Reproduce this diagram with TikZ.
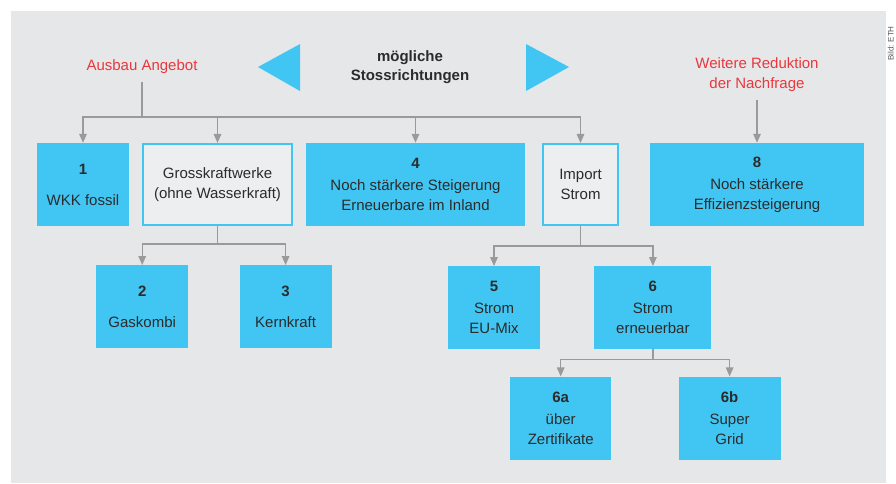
\documentclass[tikz,border=0pt]{standalone}
\usepackage{fontspec}
\setmainfont{Liberation Sans}
\usetikzlibrary{positioning}
\usetikzlibrary{arrows.meta}
\definecolor{bgc}{HTML}{E6E7E9}
\definecolor{cyanbox}{HTML}{41C6F3}
\definecolor{redtxt}{HTML}{E8383D}
\definecolor{linec}{HTML}{9A9A9A}
\definecolor{txt}{HTML}{2B2B2B}

\begin{document}
\begin{tikzpicture}[x=1pt,y=-1pt,node distance=13pt,font=\fontsize{15}{20}\selectfont,text=txt]
\tikzstyle{box}=[fill=cyanbox, align=center, minimum height=83pt, inner sep=0pt]
\tikzstyle{obox}=[draw=cyanbox, line width=1.6pt, fill=bgc!70!white, align=center, minimum height=81.5pt, inner sep=0pt]
\tikzstyle{goal}=[text=redtxt, align=center, inner sep=8pt]
\tikzstyle{line}=[draw=linec, line width=1.4pt]
\tikzstyle{arr}=[line, -{Triangle[width=7.5pt,length=9pt]}]
\useasboundingbox (0,0) rectangle (896,483);
\fill[bgc] (11,11) rectangle (886,483);
\node[rotate=90, anchor=south west, inner sep=1pt, text=black!65, font=\fontsize{8}{9}\selectfont] (credit) at (895,62) {Bild: ETH};

% Kopfzeile
\node[goal] (ausbau) at (142,67) {Ausbau Angebot};
\node[font=\bfseries\fontsize{15}{19}\selectfont, align=center] (head) at (410,67) {mögliche\\Stossrichtungen};
\fill[cyanbox] (258,67) -- (300,44) -- (300,91) -- cycle;
\fill[cyanbox] (569,67) -- (526,44) -- (526,91) -- cycle;

% erste Ebene
\node[box, minimum width=92pt] (b1) at (83,184.5) {\textbf{1}\\[11pt]WKK fossil};
\node[obox, minimum width=149pt] (gkw) [right=13pt of b1] {Grosskraftwerke\\(ohne Wasserkraft)};
\node[box, minimum width=219pt] (b4) [right=of gkw] {\textbf{4}\\[2pt]Noch stärkere Steigerung\\Erneuerbare im Inland};
\node[obox, minimum width=75pt] (imp) [right=17pt of b4] {Import\\Strom};
\node[box, minimum width=214pt] (b8) [right=31pt of imp] {\textbf{8}\\[2pt]Noch stärkere\\Effizienzsteigerung};
\node[goal] (weitere) [above=43pt of b8] {Weitere Reduktion\\der Nachfrage};

% zweite Ebene
\node[box, minimum width=92pt] (b2) [below=39pt of gkw.south west] {\textbf{2}\\[11pt]Gaskombi};
\node[box, minimum width=92pt] (b3) [right=51pt of b2] {\textbf{3}\\[11pt]Kernkraft};
\node[box, minimum width=92pt] (b5) [below left=40pt and 2pt of imp.south west] {\textbf{5}\\[2pt]Strom\\EU-Mix};
\node[box, minimum width=117pt] (b6) [right=54pt of b5] {\textbf{6}\\[2pt]Strom\\erneuerbar};

% dritte Ebene
\node[box, minimum width=101pt] (b6a) [below left=27pt and 41.5pt of b6.south] {\textbf{6a}\\[2pt]über\\Zertifikate};
\node[box, minimum width=102pt] (b6b) [right=67pt of b6a] {\textbf{6b}\\[2pt]Super\\Grid};

% Verbindungen
\coordinate (hub) at (142,117);
\coordinate[below=18pt of gkw.south] (hubK);
\coordinate[below=20pt of imp.south] (hubI);
\coordinate[below=10pt of b6.south] (hub6);

\draw[line] (ausbau) -- (hub);
\draw[arr] (hub) -| (b1);
\draw[arr] (hub) -| (gkw);
\draw[arr] (hub) -| (b4);
\draw[arr] (hub) -| (imp);
\draw[arr] (weitere) -- (b8);
\draw[line] (gkw) -- (hubK);
\draw[arr] (hubK) -| (b2);
\draw[arr] (hubK) -| (b3);
\draw[line] (imp) -- (hubI);
\draw[arr] (hubI) -| (b5);
\draw[arr] (hubI) -| (b6);
\draw[line] (b6) -- (hub6);
\draw[arr] (hub6) -| (b6a);
\draw[arr] (hub6) -| (b6b);
\end{tikzpicture}
\end{document}
